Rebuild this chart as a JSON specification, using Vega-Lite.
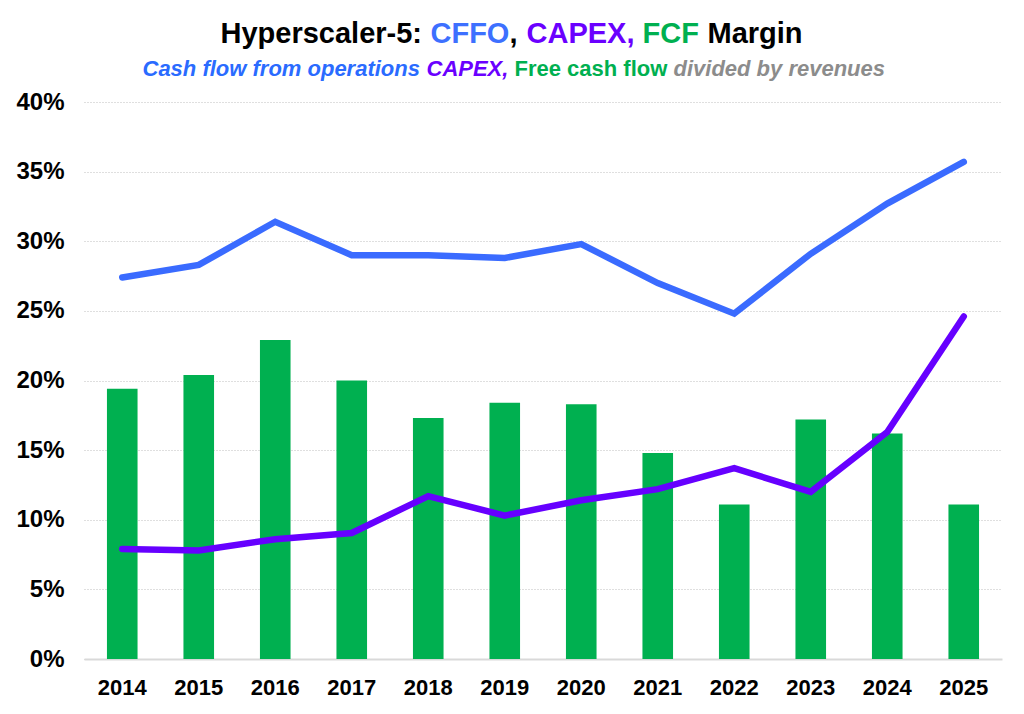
{
  "$schema": "https://vega.github.io/schema/vega-lite/v6.json",
  "background": "white",
  "padding": {"left": 15, "top": 19, "right": 5, "bottom": 5},
  "config": {
    "view": {"stroke": null},
    "font": "Liberation Sans",
    "axis": {"labelFont": "Liberation Sans", "labelFontWeight": "bold", "labelColor": "#000000", "title": null}
  },
  "spacing": 0,
  "center": true,
  "vconcat": [
    {
      "spacing": 0,
      "hconcat": [
        {"width": 1, "height": 1, "data": {"values": [{}]}, "mark": {"type": "text"}, "encoding": {},
         "title": {"text": "Hyperscaler-5:", "color": "#000000", "anchor": "start", "offset": -3, "fontSize": 29, "font": "Liberation Sans", "fontWeight": "bold"}},
        {"width": 1, "height": 1, "data": {"values": [{}]}, "mark": {"type": "text"}, "encoding": {},
         "title": {"text": "CFFO", "color": "#3d70ff", "anchor": "start", "offset": -3, "dx": 8, "fontSize": 29, "font": "Liberation Sans", "fontWeight": "bold"}},
        {"width": 1, "height": 1, "data": {"values": [{}]}, "mark": {"type": "text"}, "encoding": {},
         "title": {"text": ",", "color": "#000000", "anchor": "start", "offset": -3, "fontSize": 29, "font": "Liberation Sans", "fontWeight": "bold"}},
        {"width": 1, "height": 1, "data": {"values": [{}]}, "mark": {"type": "text"}, "encoding": {},
         "title": {"text": "CAPEX,", "color": "#6a00ff", "anchor": "start", "offset": -3, "dx": 8, "fontSize": 29, "font": "Liberation Sans", "fontWeight": "bold"}},
        {"width": 1, "height": 1, "data": {"values": [{}]}, "mark": {"type": "text"}, "encoding": {},
         "title": {"text": "FCF", "color": "#00b050", "anchor": "start", "offset": -3, "dx": 8, "fontSize": 29, "font": "Liberation Sans", "fontWeight": "bold"}},
        {"width": 1, "height": 1, "data": {"values": [{}]}, "mark": {"type": "text"}, "encoding": {},
         "title": {"text": "Margin", "color": "#000000", "anchor": "start", "offset": -3, "dx": 8, "fontSize": 29, "font": "Liberation Sans", "fontWeight": "bold"}},
        {"width": 62, "height": 1, "data": {"values": [{}]}, "mark": {"type": "text"}, "encoding": {}}
      ]
    },
    {
      "spacing": 0,
      "hconcat": [
        {"width": 1, "height": 1, "data": {"values": [{}]}, "mark": {"type": "text"}, "encoding": {},
         "title": {"text": "Cash flow from operations", "color": "#2a6bff", "anchor": "start", "offset": -2, "fontSize": 22, "font": "Liberation Sans", "fontWeight": "bold", "fontStyle": "italic"}},
        {"width": 1, "height": 1, "data": {"values": [{}]}, "mark": {"type": "text"}, "encoding": {},
         "title": {"text": "CAPEX,", "color": "#6a00ff", "anchor": "start", "offset": -2, "dx": 6, "fontSize": 22, "font": "Liberation Sans", "fontWeight": "bold", "fontStyle": "italic"}},
        {"width": 1, "height": 1, "data": {"values": [{}]}, "mark": {"type": "text"}, "encoding": {},
         "title": {"text": "Free cash flow", "color": "#00b050", "anchor": "start", "offset": -2, "dx": 6, "fontSize": 22, "font": "Liberation Sans", "fontWeight": "bold"}},
        {"width": 1, "height": 1, "data": {"values": [{}]}, "mark": {"type": "text"}, "encoding": {},
         "title": {"text": "divided by revenues", "color": "#8c8c8c", "anchor": "start", "offset": -2, "dx": 6, "fontSize": 22, "font": "Liberation Sans", "fontWeight": "bold", "fontStyle": "italic"}},
        {"width": 58, "height": 1, "data": {"values": [{}]}, "mark": {"type": "text"}, "encoding": {}}
      ]
    },
    {
      "width": 918,
      "height": 557,
      "data": {"values": [
        {"year": "2014", "cffo": 0.274, "capex": 0.079, "fcf": 0.194},
        {"year": "2015", "cffo": 0.283, "capex": 0.078, "fcf": 0.204},
        {"year": "2016", "cffo": 0.314, "capex": 0.086, "fcf": 0.229},
        {"year": "2017", "cffo": 0.290, "capex": 0.0905, "fcf": 0.200},
        {"year": "2018", "cffo": 0.290, "capex": 0.117, "fcf": 0.173},
        {"year": "2019", "cffo": 0.288, "capex": 0.103, "fcf": 0.184},
        {"year": "2020", "cffo": 0.298, "capex": 0.114, "fcf": 0.183},
        {"year": "2021", "cffo": 0.270, "capex": 0.122, "fcf": 0.148},
        {"year": "2022", "cffo": 0.248, "capex": 0.137, "fcf": 0.111},
        {"year": "2023", "cffo": 0.291, "capex": 0.120, "fcf": 0.172},
        {"year": "2024", "cffo": 0.327, "capex": 0.163, "fcf": 0.162},
        {"year": "2025", "cffo": 0.357, "capex": 0.246, "fcf": 0.111}
      ]},
      "encoding": {
        "x": {"field": "year", "type": "ordinal",
              "scale": {"paddingInner": 0.6, "paddingOuter": 0.3},
              "axis": {"labelAngle": 0, "labelFontSize": 22, "labelPadding": 18, "ticks": false, "tickSize": 0,
                       "domain": true, "domainColor": "#d9d9d9", "domainWidth": 2, "grid": false}}
      },
      "layer": [
        {
          "mark": {"type": "bar", "color": "#00b050"},
          "encoding": {
            "y": {"field": "fcf", "type": "quantitative",
                  "scale": {"domain": [0, 0.4], "nice": false},
                  "axis": {"values": [0, 0.05, 0.1, 0.15, 0.2, 0.25, 0.3, 0.35, 0.4], "format": ".0%",
                           "labelFontSize": 24, "labelPadding": 20, "ticks": false, "tickSize": 0, "domain": false,
                           "grid": true, "gridColor": "#bfbfbf", "gridDash": [1, 2], "gridWidth": 1}}
          }
        },
        {
          "mark": {"type": "line", "color": "#6600ff", "strokeWidth": 6.5, "strokeCap": "round"},
          "encoding": {"y": {"field": "capex", "type": "quantitative"}}
        },
        {
          "mark": {"type": "line", "color": "#3a6bff", "strokeWidth": 6.5, "strokeCap": "round"},
          "encoding": {"y": {"field": "cffo", "type": "quantitative"}}
        }
      ]
    }
  ]
}
